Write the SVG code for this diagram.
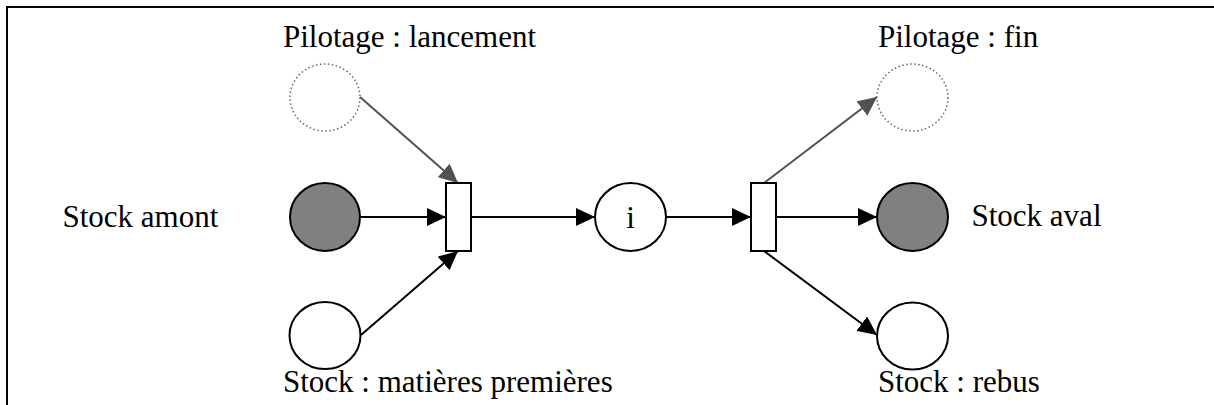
<svg xmlns="http://www.w3.org/2000/svg" width="1214" height="405" viewBox="0 0 1214 405">
<style>
.t{font-family:'Liberation Serif','Times New Roman','DejaVu Serif',serif;font-size:31px;fill:#000}
.pl{stroke:#000;stroke-width:2}
.dot{fill:#fff;stroke:#666;stroke-width:1.5;stroke-dasharray:1.5 2.5}
.gray{fill:#808080}
.wh{fill:#fff}
.tr{fill:#fff;stroke:#000;stroke-width:2}
.c{stroke:#000;stroke-width:2;fill:none}
.cg{stroke:#505050;stroke-width:2;fill:none}
</style>
<defs>
<marker id="a" viewBox="0 0 19 18" refX="19" refY="9" markerWidth="19" markerHeight="18" markerUnits="userSpaceOnUse" orient="auto">
<path d="M0,0L19,9L0,18z" fill="#000"/>
</marker>
<marker id="ag" viewBox="0 0 19 18" refX="19" refY="9" markerWidth="19" markerHeight="18" markerUnits="userSpaceOnUse" orient="auto">
<path d="M0,0L19,9L0,18z" fill="#505050"/>
</marker>
</defs>
<rect width="1214" height="405" fill="#fff"/>
<path d="M7,405V7H1214" fill="none" stroke="#000" stroke-width="2"/>
<g id="connectors">
<path class="cg" d="M360,97L458,183" marker-end="url(#ag)"/>
<path class="c" d="M360,217L446,217" marker-end="url(#a)"/>
<path class="c" d="M361,335L458,251" marker-end="url(#a)"/>
<path class="c" d="M471,217L595,217" marker-end="url(#a)"/>
<path class="c" d="M666,217L751,217" marker-end="url(#a)"/>
<path class="cg" d="M764,183L877,97" marker-end="url(#ag)"/>
<path class="c" d="M776,217L877,217" marker-end="url(#a)"/>
<path class="c" d="M764,251L877,335" marker-end="url(#a)"/>
</g>
<g id="pilotage-lancement"><ellipse class="dot" cx="325" cy="97.5" rx="35" ry="33.5"/><text class="t" x="283" y="47">Pilotage : lancement</text></g>
<g id="stock-amont"><ellipse class="pl gray" cx="325" cy="217" rx="35" ry="34"/><text class="t" x="62.5" y="226.5">Stock amont</text></g>
<g id="stock-mp"><ellipse class="pl wh" cx="325" cy="335.5" rx="35.5" ry="33.5"/><text class="t" x="283" y="392">Stock : matières premières</text></g>
<g id="t1"><rect class="tr" x="446" y="183" width="25" height="68"/></g>
<g id="place-i"><ellipse class="pl wh" cx="630.5" cy="217" rx="35.5" ry="34"/><text class="t" x="630.5" y="228" text-anchor="middle">i</text></g>
<g id="t2"><rect class="tr" x="751" y="183" width="25" height="68"/></g>
<g id="pilotage-fin"><ellipse class="dot" cx="912.5" cy="97.5" rx="35.5" ry="33.5"/><text class="t" x="878" y="47">Pilotage : fin</text></g>
<g id="stock-aval"><ellipse class="pl gray" cx="912.5" cy="217" rx="35.5" ry="34"/><text class="t" x="971.5" y="226">Stock aval</text></g>
<g id="stock-rebus"><ellipse class="pl wh" cx="912.5" cy="336" rx="35.5" ry="33.5"/><text class="t" x="878" y="392">Stock : rebus</text></g>
</svg>
